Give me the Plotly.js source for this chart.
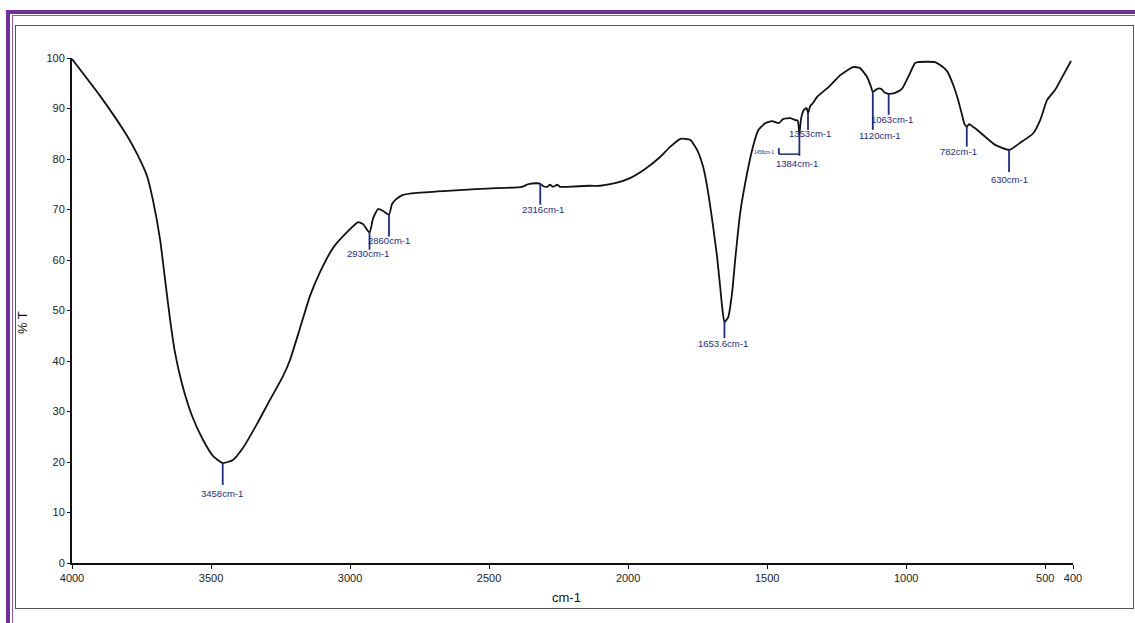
<!DOCTYPE html>
<html>
<head>
<meta charset="utf-8">
<script src="https://cdn.plot.ly/plotly-3.0.1.min.js"></script>
<style>
  html, body { margin: 0; padding: 0; background: #fff; overflow: hidden; }
  #wrap { position: relative; width: 1135px; height: 623px; overflow: hidden; }
  #chart { position: absolute; left: 0; top: 0; width: 1135px; height: 623px; }
  .frame { position: absolute; pointer-events: none; box-sizing: border-box; }
</style>
</head>
<body>
<div id="wrap">
  <div id="chart"></div>
  <div class="frame" style="left:6px;top:10px;width:1200px;height:700px;border:4px solid #7030a0;"></div>
  <div class="frame" style="left:12px;top:15px;width:1200px;height:700px;border:1px solid #8a5cb8;"></div>
  <div class="frame" style="left:15px;top:25px;width:1119px;height:584px;border:1.5px solid #555;"></div>
</div>
<script>
// FTIR spectrum: wavenumber (cm-1) and transmittance (%T)
const wavenumber = [
  4000, 3899, 3802, 3766, 3730, 3709, 3683, 3665, 3647, 3630, 3604, 3568, 3529, 3493,
  3458, 3421, 3385, 3335, 3288, 3241, 3216, 3180, 3144, 3108, 3061, 3011, 2971, 2953,
  2930, 2917, 2899, 2881, 2860, 2849, 2835, 2810, 2759, 2651, 2532, 2381, 2360, 2327,
  2316, 2305, 2291, 2281, 2270, 2255, 2245, 2219, 2137, 2101, 2047, 1993, 1939, 1885,
  1849, 1812, 1777, 1752, 1730, 1712, 1694, 1680, 1669, 1660, 1653.6, 1640, 1626, 1615,
  1597, 1579, 1554, 1532, 1507, 1482, 1458, 1443, 1417, 1399, 1390, 1384, 1378, 1368,
  1358, 1353, 1345, 1335, 1320, 1274, 1237, 1191, 1166, 1140, 1127, 1120, 1104, 1090,
  1076, 1063, 1040, 1015, 993, 968, 957, 896, 878, 853, 831, 813, 799, 790,
  782, 774, 765, 752, 716, 680, 630, 590, 543, 518, 493, 464, 439, 407
];
const transmittance = [
  99.8, 92.5, 84.6, 81.0, 76.6, 71.9, 64.0, 56.0, 48.1, 41.8, 35.4, 29.1, 24.4, 21.2,
  19.8, 20.4, 22.8, 27.5, 32.3, 37.0, 40.2, 46.5, 52.9, 57.6, 62.4, 65.5, 67.5, 67.1,
  65.4, 68.3, 70.1, 69.7, 69.0, 71.1, 72.0, 72.9, 73.3, 73.7, 74.1, 74.5, 75.0, 75.2,
  75.1, 74.6, 74.5, 74.9, 74.5, 74.9, 74.5, 74.5, 74.7, 74.7, 75.2, 76.2, 78.0, 80.4,
  82.4, 84.0, 83.8, 81.8, 78.4, 73.3, 66.5, 60.6, 54.7, 49.8, 47.7, 48.7, 53.5, 60.0,
  69.3, 75.2, 81.8, 85.7, 87.1, 87.5, 87.1, 87.9, 88.1, 87.7, 87.6, 85.0, 88.0, 89.7,
  90.1, 89.1, 90.5, 91.1, 92.3, 94.5, 96.6, 98.2, 98.0, 96.2, 94.4, 93.3, 93.9, 93.9,
  93.1, 92.9, 93.1, 93.9, 96.2, 99.0, 99.2, 99.2, 98.6, 97.4, 94.7, 91.7, 88.7, 86.9,
  86.4, 86.9, 86.6, 86.1, 84.4, 82.8, 81.8, 83.2, 85.1, 87.7, 91.7, 93.7, 96.2, 99.4
];

// Labelled peak positions
const peakWn = [3458, 2930, 2860, 2316, 1653.6, 1458, 1384, 1353, 1120, 1063, 782, 630];
const peakText = ["3458cm-1", "2930cm-1", "2860cm-1", "2316cm-1", "1653.6cm-1", "1458cm-1",
                  "1384cm-1", "1353cm-1", "1120cm-1", "1063cm-1", "782cm-1", "630cm-1"];

// Axis ticks
const xTickVals = [4000, 3500, 3000, 2500, 2000, 1500, 1000, 500, 400];
const xTickText = ["4000", "3500", "3000", "2500", "2000", "1500", "1000", "500", "400"];
const yTickVals = [0, 10, 20, 30, 40, 50, 60, 70, 80, 90, 100];

// Leader-line drop (px below the curve) and label offsets for each peak marker
const peakStyle = [
  { drop: [0, 22], dy: 30, dx: -1, size: 9.5 },
  { drop: [0, 17], dy: 21, dx: -2, size: 9.5 },
  { drop: [0, 22], dy: 26, dx: 0, size: 9.5 },
  { drop: [0, 21], dy: 26, dx: 3, size: 9.5 },
  { drop: [0, 16], dy: 21, dx: -1, size: 9.5 },
  { drop: [25, 31], dy: 29, dx: -14, size: 4.5 },
  { drop: [0, 22], dy: 30, dx: -2, size: 9.5 },
  { drop: [0, 17], dy: 20, dx: 2, size: 9.5 },
  { drop: [0, 38], dy: 44, dx: 7, size: 9.5 },
  { drop: [0, 21], dy: 26, dx: 3, size: 9.5 },
  { drop: [0, 20], dy: 25, dx: -8, size: 9.5 },
  { drop: [0, 22], dy: 30, dx: 0, size: 9.5 }
];

// Transmittance on the spectrum at a given wavenumber (linear between samples)
function tAt(w) {
  for (let i = 0; i < wavenumber.length - 1; i++) {
    const a = wavenumber[i], b = wavenumber[i + 1];
    if (w <= a && w >= b) {
      const f = (a - w) / (a - b);
      return transmittance[i] + f * (transmittance[i + 1] - transmittance[i]);
    }
  }
  return transmittance[transmittance.length - 1];
}

const markColor = '#1c2a8c';
const shapes = [];
const annotations = [];

peakWn.forEach((w, i) => {
  const st = peakStyle[i];
  const t = tAt(w);
  shapes.push({
    type: 'line', xref: 'x', yref: 'y', ysizemode: 'pixel', yanchor: t,
    x0: w, x1: w, y0: -st.drop[0], y1: -st.drop[1],
    line: { color: markColor, width: 1.8 }
  });
  annotations.push({
    x: w, y: t, xref: 'x', yref: 'y', showarrow: false,
    text: peakText[i], xshift: st.dx, yshift: -st.dy,
    xanchor: 'center', yanchor: 'middle',
    font: { family: 'Liberation Sans, Arial, sans-serif', size: st.size, color: markColor }
  });
});

// Bracket joining the 1458 and 1384 markers
const bw = peakWn[5], bw2 = peakWn[6];
shapes.push({
  type: 'line', xref: 'x', yref: 'y', ysizemode: 'pixel', yanchor: tAt(bw),
  x0: bw, x1: bw2, y0: -peakStyle[5].drop[1], y1: -peakStyle[5].drop[1],
  line: { color: markColor, width: 1.5 }
});

// Axis titles
annotations.push({
  xref: 'paper', yref: 'paper', x: -0.05, y: 0.477, showarrow: false,
  text: '% T', textangle: -90, xanchor: 'center', yanchor: 'middle',
  font: { family: 'Liberation Sans, Arial, sans-serif', size: 13, color: '#111' }
});
annotations.push({
  xref: 'paper', yref: 'paper', x: 0.494, y: -0.069, showarrow: false,
  text: 'cm-1', xanchor: 'center', yanchor: 'middle',
  font: { family: 'Liberation Sans, Arial, sans-serif', size: 13, color: '#111' }
});

const trace = {
  x: wavenumber, y: transmittance, type: 'scatter', mode: 'lines',
  line: { color: '#111', width: 1.8, shape: 'spline', smoothing: 0.5 },
  hoverinfo: 'x+y'
};

const layout = {
  width: 1135, height: 623,
  margin: { l: 72, r: 62, t: 58, b: 60 },
  paper_bgcolor: '#fff', plot_bgcolor: '#fff',
  showlegend: false,
  font: { family: 'Liberation Sans, Arial, sans-serif', size: 11, color: '#222' },
  xaxis: {
    range: [4000, 400], tickmode: 'array', tickvals: xTickVals, ticktext: xTickText,
    showgrid: false, zeroline: false, showline: true, linecolor: '#111', linewidth: 2,
    ticks: 'outside', ticklen: 4, tickcolor: '#111', tickwidth: 1,
    tickfont: { size: 11, color: '#222' }
  },
  yaxis: {
    range: [0, 100], tickmode: 'array', tickvals: yTickVals,
    showgrid: false, zeroline: false, showline: true, linecolor: '#111', linewidth: 2,
    ticks: 'outside', ticklen: 3, tickcolor: '#111', tickwidth: 1,
    tickfont: { size: 11, color: '#222' }
  },
  shapes: shapes,
  annotations: annotations
};

Plotly.newPlot('chart', [trace], layout, { displayModeBar: false, staticPlot: true });
</script>
</body>
</html>
